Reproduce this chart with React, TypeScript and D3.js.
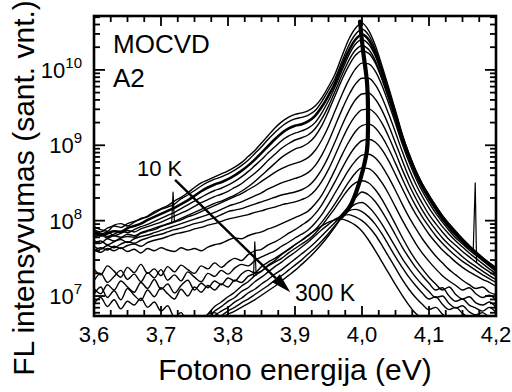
import React from 'react';
import * as d3 from 'd3';

// Photon energy grid (eV)
const energy = [3.6,3.61,3.62,3.63,3.64,3.65,3.66,3.67,3.68,3.69,3.7,3.71,3.72,3.73,3.74,3.75,3.76,3.77,3.78,3.79,3.8,3.81,3.82,3.83,3.84,3.85,3.86,3.87,3.88,3.89,3.9,3.91,3.92,3.93,3.94,3.95,3.96,3.97,3.98,3.99,4,4.01,4.02,4.03,4.04,4.05,4.06,4.07,4.08,4.09,4.1,4.11,4.12,4.13,4.14,4.15,4.16,4.17,4.18,4.19,4.2];

// log10 of PL intensity for each temperature
const s10K = [7.88,7.85,7.90,7.93,7.91,7.96,7.99,8.02,8.06,8.12, 8.16,8.20,8.26,8.31,8.37,8.44,8.50,8.54,8.58,8.62, 8.66,8.71,8.77,8.85,8.93,9.03,9.13,9.23,9.31,9.37, 9.41,9.43,9.46,9.52,9.63,9.78,9.95,10.18,10.40,10.55, 10.62,10.52,10.32,10.05,9.76,9.46,9.15,8.89,8.67,8.49, 8.34,8.20,8.07,7.96,7.86,7.76,7.67,7.58,7.49,7.41,7.33];
const s20K = [7.92,7.88,7.86,7.94,7.96,7.93,7.98,8.03,8.05,8.10, 8.15,8.18,8.22,8.29,8.34,8.40,8.46,8.51,8.55,8.58, 8.62,8.67,8.73,8.80,8.89,8.98,9.08,9.17,9.25,9.31, 9.35,9.37,9.40,9.46,9.58,9.73,9.89,10.11,10.32,10.47, 10.54,10.46,10.27,10.01,9.73,9.43,9.13,8.88,8.66,8.48, 8.33,8.19,8.06,7.95,7.85,7.76,7.67,7.59,7.51,7.44,7.38];
const s30K = [7.84,7.80,7.83,7.86,7.85,7.90,7.93,7.96,8.01,8.05, 8.09,8.13,8.17,8.22,8.27,8.33,8.39,8.44,8.48,8.51, 8.55,8.60,8.66,8.73,8.81,8.90,8.99,9.08,9.16,9.22, 9.26,9.28,9.32,9.39,9.51,9.66,9.83,10.05,10.25,10.40, 10.47,10.40,10.22,9.97,9.70,9.41,9.11,8.87,8.65,8.47, 8.32,8.18,8.05,7.94,7.84,7.74,7.65,7.57,7.49,7.41,7.34];
const s40K = [7.80,7.83,7.79,7.82,7.86,7.84,7.88,7.92,7.95,7.99, 8.03,8.07,8.11,8.16,8.21,8.26,8.31,8.36,8.40,8.43, 8.47,8.52,8.58,8.65,8.73,8.81,8.90,8.98,9.06,9.12, 9.16,9.19,9.23,9.30,9.43,9.59,9.78,9.99,10.19,10.34, 10.40,10.34,10.18,9.94,9.67,9.38,9.09,8.85,8.64,8.46, 8.31,8.17,8.04,7.93,7.83,7.74,7.66,7.58,7.51,7.44,7.37];
const s50K = [7.86,7.82,7.85,7.80,7.83,7.87,7.85,7.89,7.92,7.95, 7.98,8.02,8.06,8.10,8.14,8.19,8.24,8.28,8.32,8.35, 8.39,8.44,8.49,8.56,8.63,8.71,8.80,8.88,8.96,9.02, 9.07,9.10,9.14,9.22,9.35,9.52,9.72,9.93,10.12,10.26, 10.32,10.27,10.12,9.89,9.63,9.35,9.07,8.83,8.62,8.44, 8.29,8.15,8.02,7.91,7.81,7.72,7.64,7.57,7.50,7.43,7.36];
const s60K = [7.78,7.81,7.77,7.80,7.78,7.82,7.80,7.84,7.87,7.90, 7.93,7.96,7.99,8.03,8.07,8.11,8.15,8.19,8.23,8.26, 8.30,8.34,8.39,8.45,8.52,8.60,8.68,8.76,8.84,8.90, 8.95,8.98,9.03,9.12,9.26,9.45,9.66,9.87,10.05,10.19, 10.25,10.22,10.09,9.87,9.61,9.34,9.06,8.82,8.61,8.43, 8.28,8.14,8.01,7.90,7.80,7.71,7.63,7.56,7.49,7.42,7.35];
const s70K = [7.74,7.70,7.76,7.73,7.77,7.79,7.78,7.83,7.86,7.88, 7.92,7.95,7.98,8.01,8.05,8.08,8.12,8.16,8.20,8.24, 8.28,8.32,8.36,8.41,8.46,8.52,8.58,8.64,8.69,8.73, 8.76,8.79,8.84,8.93,9.07,9.25,9.46,9.67,9.86,10.01, 10.09,10.08,9.98,9.79,9.55,9.29,9.02,8.78,8.57,8.39, 8.24,8.10,7.98,7.87,7.77,7.69,7.61,7.54,7.47,7.40,7.33];
const s80K = [7.70,7.73,7.68,7.72,7.75,7.71,7.76,7.79,7.81,7.84, 7.87,7.90,7.93,7.96,7.99,8.02,8.05,8.08,8.11,8.15, 8.19,8.22,8.25,8.29,8.33,8.37,8.42,8.46,8.50,8.53, 8.56,8.59,8.64,8.73,8.87,9.05,9.26,9.47,9.66,9.81, 9.89,9.89,9.80,9.63,9.41,9.17,8.92,8.69,8.49,8.32, 8.17,8.04,7.92,7.82,7.73,7.65,7.57,7.50,7.43,7.36,7.30];
const s90K = [7.66,7.62,7.67,7.64,7.69,7.72,7.70,7.74,7.77,7.80, 7.82,7.85,7.88,7.90,7.93,7.96,7.98,8.01,8.04,8.08, 8.12,8.14,8.16,8.19,8.22,8.25,8.28,8.31,8.34,8.36, 8.38,8.41,8.46,8.55,8.68,8.85,9.05,9.26,9.45,9.60, 9.68,9.69,9.61,9.46,9.26,9.03,8.80,8.58,8.39,8.23, 8.08,7.96,7.85,7.75,7.67,7.59,7.52,7.45,7.38,7.32,7.26];
const s100K = [7.60,7.64,7.61,7.66,7.63,7.67,7.69,7.66,7.71,7.74, 7.76,7.79,7.82,7.84,7.86,7.89,7.91,7.94,7.96,7.99, 8.02,8.04,8.06,8.08,8.11,8.13,8.16,8.18,8.21,8.23, 8.25,8.28,8.32,8.40,8.52,8.68,8.87,9.07,9.25,9.39, 9.47,9.48,9.42,9.29,9.11,8.90,8.68,8.48,8.30,8.14, 8.00,7.88,7.77,7.68,7.60,7.52,7.45,7.39,7.33,7.27,7.22];
const s120K = [7.62,7.58,7.63,7.60,7.64,7.59,7.62,7.57,7.63,7.60, 7.64,7.61,7.59,7.64,7.61,7.63,7.60,7.65,7.68,7.70, 7.74,7.77,7.76,7.80,7.83,7.85,7.89,7.92,7.96,8.00, 8.04,8.08,8.13,8.22,8.34,8.50,8.68,8.87,9.04,9.18, 9.26,9.28,9.23,9.11,8.95,8.76,8.56,8.37,8.20,8.05, 7.92,7.80,7.70,7.61,7.53,7.46,7.40,7.34,7.28,7.23,7.18];
const s140K = [7.36,7.28,7.40,7.33,7.25,7.38,7.31,7.42,7.30,7.36, 7.27,7.39,7.32,7.41,7.35,7.30,7.40,7.36,7.44,7.38, 7.45,7.50,7.47,7.55,7.60,7.62,7.68,7.72,7.77,7.83, 7.88,7.94,8.00,8.09,8.21,8.36,8.52,8.69,8.85,8.98, 9.06,9.08,9.04,8.94,8.79,8.61,8.43,8.25,8.09,7.95, 7.82,7.71,7.61,7.53,7.45,7.38,7.32,7.27,7.22,7.18,7.13];
const s160K = [7.20,7.30,7.18,7.26,7.34,7.22,7.29,7.19,7.31,7.24, 7.35,7.21,7.28,7.20,7.32,7.25,7.19,7.30,7.26,7.34, 7.29,7.37,7.42,7.40,7.47,7.52,7.56,7.60,7.66,7.71, 7.77,7.82,7.88,7.97,8.08,8.22,8.37,8.52,8.67,8.79, 8.87,8.88,8.83,8.72,8.57,8.40,8.22,8.05,7.90,7.76, 7.64,7.53,7.44,7.35,7.28,7.21,7.15,7.10,7.12,7.05,7.02];
const s180K = [7.10,7.03,7.15,7.08,7.20,7.12,7.05,7.18,7.10,7.22, 7.09,7.16,7.04,7.14,7.21,7.08,7.17,7.11,7.20,7.15, 7.24,7.20,7.29,7.34,7.31,7.39,7.45,7.50,7.56,7.62, 7.68,7.74,7.80,7.88,7.98,8.10,8.23,8.37,8.51,8.63, 8.70,8.69,8.62,8.50,8.35,8.18,8.01,7.85,7.70,7.57, 7.46,7.36,7.27,7.20,7.14,7.08,7.11,7.03,6.98,7.01,6.95];
const s200K = [7.02,7.12,6.98,7.07,6.95,7.10,7.01,6.94,7.08,6.99, 7.11,7.03,6.96,7.09,7.00,7.12,7.05,7.14,7.08,7.16, 7.12,7.21,7.18,7.26,7.30,7.33,7.40,7.45,7.50,7.57, 7.63,7.69,7.75,7.83,7.93,8.05,8.17,8.30,8.42,8.50, 8.53,8.50,8.41,8.28,8.12,7.95,7.78,7.62,7.48,7.36, 7.25,7.16,7.08,7.12,7.02,6.96,6.99,6.91,6.88,6.92,6.85];
const s220K = [6.90,6.98,6.86,6.95,6.83,6.93,6.88,6.97,6.85,6.92, 6.80,6.87,6.72,6.78,6.65,6.70,6.62,6.76,6.78,6.72, 6.76,6.80,6.85,6.90,6.95,7.01,7.07,7.13,7.20,7.27, 7.34,7.42,7.50,7.59,7.69,7.80,7.92,8.05,8.18,8.30, 8.38,8.34,8.25,8.12,7.97,7.81,7.65,7.51,7.38,7.27, 7.17,7.08,7.11,7.00,6.93,6.96,6.88,6.84,6.80,6.85,6.78];
const s240K = [6.55,6.62,6.50,6.58,6.66,6.54,6.60,6.52,6.63,6.57, 6.48,6.59,6.64,6.53,6.61,6.56,6.68,6.62,6.70,6.74, 6.80,6.85,6.91,6.96,7.02,7.08,7.14,7.21,7.27,7.34, 7.41,7.48,7.56,7.64,7.73,7.83,7.94,8.05,8.15,8.22, 8.24,8.18,8.08,7.95,7.80,7.65,7.50,7.37,7.25,7.15, 7.06,6.98,7.00,6.90,6.84,6.87,6.79,6.75,6.78,6.72,6.70];
const s260K = [6.45,6.52,6.40,6.48,6.55,6.42,6.50,6.46,6.58,6.51, 6.44,6.56,6.60,6.52,6.66,6.58,6.70,6.64,6.74,6.80, 6.85,6.92,6.97,7.04,7.09,7.16,7.22,7.29,7.35,7.42, 7.49,7.56,7.63,7.71,7.80,7.89,7.98,8.07,8.13,8.15, 8.12,8.05,7.95,7.82,7.67,7.52,7.38,7.25,7.14,7.04, 6.96,6.99,6.89,6.82,6.85,6.77,6.72,6.75,6.68,6.65,6.62];
const s280K = [6.40,6.35,6.44,6.38,6.47,6.41,6.50,6.43,6.54,6.48, 6.58,6.52,6.62,6.57,6.68,6.63,6.74,6.70,6.80,6.86, 6.93,6.98,7.06,7.11,7.19,7.25,7.32,7.39,7.45,7.52, 7.58,7.65,7.72,7.80,7.88,7.95,8.02,8.06,8.08,8.05, 8.00,7.92,7.81,7.67,7.52,7.37,7.22,7.09,6.98,6.89, 6.82,6.85,6.76,6.70,6.73,6.66,6.62,6.58,6.55,6.52,6.50];
const s300K = [6.35,6.42,6.36,6.45,6.39,6.48,6.43,6.52,6.47,6.56, 6.51,6.60,6.56,6.65,6.61,6.70,6.67,6.76,6.86,6.92, 6.99,7.05,7.13,7.19,7.27,7.33,7.41,7.47,7.55,7.61, 7.68,7.74,7.81,7.87,7.93,7.98,8.01,8.02,7.99,7.94, 7.86,7.74,7.60,7.45,7.30,7.15,7.01,6.88,6.77,6.70, 6.64,6.66,6.58,6.55,6.52,6.50,6.48,6.46,6.45,6.44,6.42];

const spectra = [s10K,s20K,s30K,s40K,s50K,s60K,s70K,s80K,s90K,s100K,s120K,s140K,s160K,s180K,s200K,s220K,s240K,s260K,s280K,s300K];
const thickIndex = [2];

// narrow spikes (energy, log10 I)
const spike1 = [[3.716,7.98],[3.718,8.38],[3.720,7.99]];
const spike2 = [[3.838,7.25],[3.840,7.72],[3.842,7.27]];
const spike3 = [[4.166,7.60],[4.169,8.50],[4.171,7.45]];
const spikes = [spike1, spike2, spike3];

// peak position trace (energy, log10 I)
const peakTrace = [[3.997,10.64],[4.0015,10.26],[4.0075,9.83],[4.009,9.38],[4.0075,8.94],[4.0015,8.68],[3.9925,8.41],[3.982,8.19],[3.967,8.03]];

// arrow 10 K -> 300 K (energy, log10 I)
const arrowFrom = [3.721, 8.54];
const arrowTo = [3.893, 7.05];

const xTickLabels = ['3,6','3,7','3,8','3,9','4,0','4,1','4,2'];
const xTickValues = [3.6,3.7,3.8,3.9,4.0,4.1,4.2];
const yDecades = [7, 8, 9, 10];

const FONT = '"Liberation Sans", Arial, Helvetica, sans-serif';

export default function App() {
  const L = 94, R = 496, T = 16, B = 316;
  const x = d3.scaleLinear().domain([3.6, 4.2]).range([L, R]);
  const y = d3.scaleLog().domain([Math.pow(10, 6.735), Math.pow(10, 10.715)]).range([B, T]);
  const px = (e: number) => x(e);
  const py = (l: number) => y(Math.pow(10, l));

  const line = d3.line<number[]>().x(d => px(d[0])).y(d => py(d[1])).curve(d3.curveMonotoneX);
  const lineLin = d3.line<number[]>().x(d => px(d[0])).y(d => py(d[1]));
  const traceLine = d3.line<number[]>().x(d => px(d[0])).y(d => py(d[1])).curve(d3.curveCatmullRom);

  const xMinor = d3.range(0, 25).map(i => 3.6 + i * 0.025);
  const yMinor = y.ticks(40).filter(v => {
    const m = v / Math.pow(10, Math.floor(Math.log10(v) + 1e-9));
    return Math.abs(m - 1) > 1e-6;
  });

  const ax1 = px(arrowFrom[0]), ay1 = py(arrowFrom[1]);
  const ax2 = px(arrowTo[0]), ay2 = py(arrowTo[1]);
  const ang = Math.atan2(ay2 - ay1, ax2 - ax1);
  const hl = 20, hw = 5.5;
  const bx = ax2 - hl * Math.cos(ang), by = ay2 - hl * Math.sin(ang);
  const head = [
    [ax2, ay2],
    [bx + hw * Math.sin(ang), by - hw * Math.cos(ang)],
    [bx - hw * Math.sin(ang), by + hw * Math.cos(ang)],
  ].map(p => p.join(',')).join(' ');

  return (
    <svg width={512} height={392} style={{ position: 'absolute', left: 0, top: 0, background: '#fff' }} fontFamily={FONT}>
      <defs>
        <clipPath id="plot"><rect x={L} y={T} width={R - L} height={B - T} /></clipPath>
      </defs>
      <g clipPath="url(#plot)" fill="none" stroke="#000" strokeLinejoin="round">
        {spectra.map((s, i) => (
          <path key={i} d={line(energy.map((e, j) => [e, s[j]])) || ''} strokeWidth={thickIndex.includes(i) ? 2.6 : 1.4} />
        ))}
        {spikes.map((s, i) => <path key={'s' + i} d={lineLin(s) || ''} strokeWidth={1.2} />)}
        <path d={traceLine(peakTrace) || ''} strokeWidth={4.2} strokeLinecap="round" />
      </g>
      {/* arrow */}
      <line x1={ax1} y1={ay1} x2={bx} y2={by} stroke="#000" strokeWidth={2.4} />
      <polygon points={head} fill="#000" />
      {/* ticks */}
      <g stroke="#000" strokeWidth={1.8}>
        {xMinor.map((v, i) => {
          const major = i % 4 === 0;
          const len = major ? 10 : 6;
          return (
            <g key={'xt' + i}>
              <line x1={px(v)} x2={px(v)} y1={B} y2={B - len} />
              <line x1={px(v)} x2={px(v)} y1={T} y2={T + len} />
            </g>
          );
        })}
        {yDecades.map(d => (
          <g key={'yd' + d}>
            <line x1={L} x2={L + 11} y1={py(d)} y2={py(d)} />
            <line x1={R} x2={R - 11} y1={py(d)} y2={py(d)} />
          </g>
        ))}
        {yMinor.map((v, i) => (
          <g key={'ym' + i}>
            <line x1={L} x2={L + 6} y1={y(v)} y2={y(v)} />
            <line x1={R} x2={R - 6} y1={y(v)} y2={y(v)} />
          </g>
        ))}
      </g>
      <rect x={L} y={T} width={R - L} height={B - T} fill="none" stroke="#000" strokeWidth={2.6} />
      {/* x tick labels */}
      {xTickValues.map((v, i) => (
        <text key={'xl' + i} x={px(v)} y={342} fontSize={22} textAnchor="middle">{xTickLabels[i]}</text>
      ))}
      {/* y tick labels */}
      {yDecades.map(d => (
        <text key={'yl' + d} x={82} y={py(d) + 8} fontSize={22} textAnchor="end">
          10<tspan fontSize={15} dy={-10}>{d}</tspan>
        </text>
      ))}
      <text x={295} y={380} fontSize={30} textAnchor="middle">Fotono energija (eV)</text>
      <text transform={`translate(34,188) rotate(-90)`} fontSize={30} textAnchor="middle">FL intensyvumas (sant. vnt.)</text>
      <text x={113} y={53} fontSize={26}>MOCVD</text>
      <text x={113} y={87} fontSize={26}>A2</text>
      <text x={137} y={176} fontSize={22}>10 K</text>
      <text x={295} y={301} fontSize={23}>300 K</text>
    </svg>
  );
}
